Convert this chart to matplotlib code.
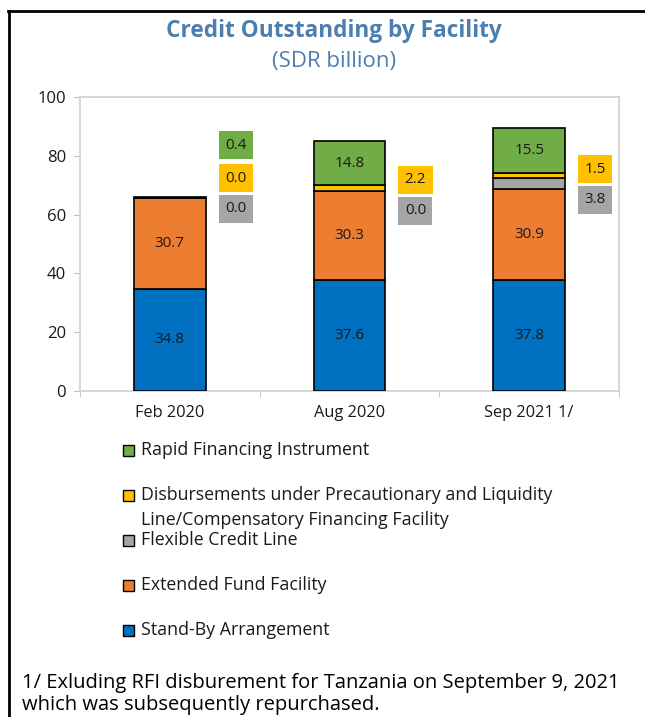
import matplotlib
matplotlib.use("Agg")
import matplotlib.pyplot as plt
from matplotlib.patches import Rectangle
from matplotlib.lines import Line2D
import numpy as np

plt.rcParams['font.family'] = ['Open Sans', 'DejaVu Sans']

categories = ["Feb 2020", "Aug 2020", "Sep 2021 1/"]
sba = [34.8, 37.6, 37.8]
eff = [30.7, 30.3, 30.9]
fcl = [0.0, 0.0, 3.8]
pll = [0.0, 2.2, 1.5]
rfi = [0.4, 14.8, 15.5]

series_names = ["Stand-By Arrangement", "Extended Fund Facility", "Flexible Credit Line",
                "Disbursements under Precautionary and Liquidity\nLine/Compensatory Financing Facility",
                "Rapid Financing Instrument"]
colors = ["#0070C0", "#ED7D31", "#A5A5A5", "#FFC000", "#70AD47"]
series = [sba, eff, fcl, pll, rfi]

fig = plt.figure(figsize=(6.45, 7.17), dpi=100)
ax = fig.add_axes([80/645, 1-391/717, (619-80)/645, (391-97)/717])

x = np.arange(len(categories))
w = 0.4
bottom = np.zeros(len(categories))
for vals, c in zip(series, colors):
    vals = np.array(vals)
    ax.bar(x, vals, w, bottom=bottom, color=c, edgecolor="black", linewidth=1.2, zorder=3)
    bottom += vals

# inside labels for large segments
bottom = np.zeros(len(categories))
for si, (vals, c) in enumerate(zip(series, colors)):
    vals = np.array(vals)
    for i, v in enumerate(vals):
        if v >= 10:
            ax.text(x[i], bottom[i] + v/2, f"{v:.1f}", ha="center", va="center",
                    fontsize=11, color="#1a1a1a", zorder=4)
    bottom += vals

# side labels for small segments (boxed)
side_y = {
    (0, 4): 83.6, (0, 3): 72.4, (0, 2): 62.0,
    (1, 3): 71.8, (1, 2): 61.3,
    (2, 3): 75.4, (2, 2): 65.0,
}
for (i, si), yy in side_y.items():
    v = series[si][i]
    ax.text(x[i] + 0.367, yy, f"{v:.1f}", ha="center", va="center", fontsize=11,
            color="#1a1a1a", zorder=4,
            bbox=dict(boxstyle="square,pad=0.42", facecolor=colors[si], edgecolor="none"))

ax.set_xlim(-0.5, 2.5)
ax.set_ylim(0, 100)
ax.set_yticks(np.arange(0, 101, 20))
ax.set_xticks(x)
ax.set_xticklabels(categories)
ax.set_xticks([-0.5, 0.5, 1.5, 2.5], minor=True)
ax.tick_params(axis="x", which="major", length=0, pad=10, labelsize=11.8, labelcolor="#1a1a1a")
ax.tick_params(axis="x", which="minor", length=4, color="#BFBFBF")
ax.tick_params(axis="y", length=4, color="#BFBFBF", labelsize=12, labelcolor="#1a1a1a", pad=6)
for s in ax.spines.values():
    s.set_color("#D0D0D0")
    s.set_linewidth(1.2)

# title
fig.text(334/645, 1-31/717, "Credit Outstanding by Facility", ha="center", va="center",
         fontsize=16.3, fontweight="bold", color="#4A7FB0")
fig.text(334/645, 1-62/717, "(SDR billion)", ha="center", va="center",
         fontsize=16, color="#4A7FB0")

# legend (manual)
leg_items = [(4, 450), (3, 495), (2, 540), (1, 585), (0, 630)]
for si, yy in leg_items:
    fig.add_artist(Rectangle((123/645, 1-(yy+5.5)/717), 11/645, 11/717,
                             transform=fig.transFigure, facecolor=colors[si],
                             edgecolor="black", linewidth=1.0))
    lines = series_names[si].split("\n")
    fig.text(141/645, 1-yy/717, lines[0], ha="left", va="center",
             fontsize=12.8, color="#1a1a1a")
    if len(lines) > 1:
        fig.text(141/645, 1-(yy+25)/717, lines[1], ha="left",
                 va="center", fontsize=12.8, color="#1a1a1a")

# footnote
fig.text(22/645, 1-683/717, "1/ Exluding RFI disburement for Tanzania on September 9, 2021",
         ha="left", va="center", fontsize=14.5, color="#000000")
fig.text(22/645, 1-705/717, "which was subsequently repurchased.",
         ha="left", va="center", fontsize=14.5, color="#000000")

# border lines
fig.add_artist(Line2D([8/645, 1.0], [1-11/717, 1-11/717], transform=fig.transFigure,
                      color="black", linewidth=2))
fig.add_artist(Line2D([9/645, 9/645], [1-11/717, 0], transform=fig.transFigure,
                      color="black", linewidth=2))

fig.savefig("out.png", dpi=100)
